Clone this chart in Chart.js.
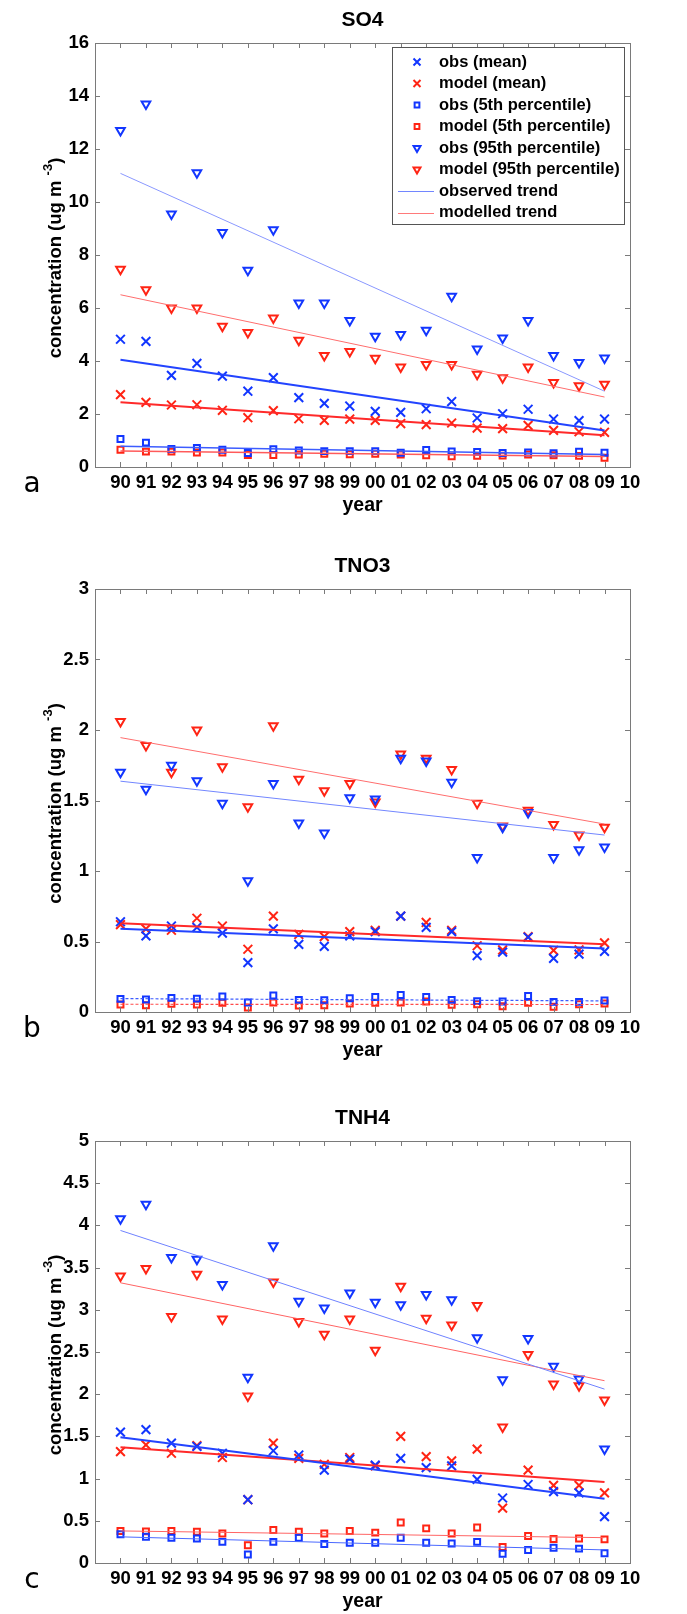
<!DOCTYPE html>
<html>
<head>
<meta charset="utf-8">
<script src="https://cdn.jsdelivr.net/npm/chart.js@4.4.1/dist/chart.umd.min.js"></script>
<style>
  html, body { margin: 0; padding: 0; background: #fff; }
  #wrap { position: relative; width: 687px; height: 1614px; }
  canvas { position: absolute; left: 0; }
</style>
</head>
<body>
<div id="wrap">
  <canvas id="chartA" width="687" height="546" style="top:0px"></canvas>
  <canvas id="chartB" width="687" height="552" style="top:546px"></canvas>
  <canvas id="chartC" width="687" height="516" style="top:1098px"></canvas>
</div>
<script>
// anos das medições
const years = [1990, 1991, 1992, 1993, 1994, 1995, 1996, 1997, 1998, 1999,
               2000, 2001, 2002, 2003, 2004, 2005, 2006, 2007, 2008, 2009];
const xTickYears = [1990, 1991, 1992, 1993, 1994, 1995, 1996, 1997, 1998, 1999, 2000,
                    2001, 2002, 2003, 2004, 2005, 2006, 2007, 2008, 2009, 2010];
const xTickLabels = ['90', '91', '92', '93', '94', '95', '96', '97', '98', '99', '00',
                     '01', '02', '03', '04', '05', '06', '07', '08', '09', '10'];
const trendYears = [1990, 2009];

// SO4
const so4ObsMean = [4.82, 4.74, 3.46, 3.91, 3.43, 2.86, 3.37, 2.62, 2.40, 2.30, 2.10, 2.06, 2.20, 2.47, 1.85, 2.01, 2.18, 1.81, 1.75, 1.81];
const so4ModMean = [2.73, 2.44, 2.34, 2.35, 2.14, 1.86, 2.13, 1.82, 1.76, 1.81, 1.76, 1.64, 1.60, 1.66, 1.47, 1.45, 1.57, 1.38, 1.33, 1.31];
const so4ObsP5 = [1.06, 0.92, 0.68, 0.72, 0.65, 0.53, 0.67, 0.62, 0.60, 0.60, 0.60, 0.54, 0.64, 0.59, 0.57, 0.53, 0.55, 0.52, 0.58, 0.54];
const so4ModP5 = [0.65, 0.58, 0.58, 0.55, 0.55, 0.45, 0.45, 0.47, 0.50, 0.48, 0.50, 0.47, 0.44, 0.40, 0.42, 0.43, 0.47, 0.44, 0.42, 0.35];
const so4ObsP95 = [12.7, 13.7, 9.55, 11.1, 8.85, 7.42, 8.95, 6.19, 6.19, 5.53, 4.93, 5.00, 5.16, 6.44, 4.45, 4.87, 5.53, 4.21, 3.94, 4.11];
const so4ModP95 = [7.46, 6.69, 6.00, 6.00, 5.31, 5.08, 5.62, 4.78, 4.21, 4.36, 4.10, 3.77, 3.87, 3.87, 3.50, 3.37, 3.77, 3.19, 3.07, 3.12];
const so4TrObsMean = [4.05, 1.38];
const so4TrModMean = [2.44, 1.20];
const so4TrObsP5 = [0.78, 0.47];
const so4TrModP5 = [0.60, 0.40];
const so4TrObsP95 = [11.08, 2.86];
const so4TrModP95 = [6.50, 2.64];

// TNO3
const no3ObsMean = [0.64, 0.54, 0.61, 0.60, 0.56, 0.35, 0.59, 0.48, 0.465, 0.54, 0.57, 0.68, 0.60, 0.57, 0.40, 0.425, 0.53, 0.38, 0.41, 0.43];
const no3ModMean = [0.62, 0.59, 0.58, 0.665, 0.61, 0.445, 0.68, 0.55, 0.535, 0.57, 0.58, 0.68, 0.635, 0.58, 0.47, 0.44, 0.535, 0.437, 0.44, 0.49];
const no3ObsP5 = [0.093, 0.088, 0.100, 0.095, 0.110, 0.067, 0.117, 0.086, 0.084, 0.098, 0.107, 0.120, 0.107, 0.086, 0.077, 0.074, 0.114, 0.072, 0.072, 0.081];
const no3ModP5 = [0.053, 0.048, 0.058, 0.053, 0.065, 0.032, 0.067, 0.046, 0.048, 0.060, 0.065, 0.067, 0.074, 0.051, 0.055, 0.041, 0.065, 0.037, 0.055, 0.060];
const no3ObsP95 = [1.70, 1.58, 1.75, 1.64, 1.48, 0.93, 1.62, 1.34, 1.27, 1.52, 1.51, 1.80, 1.78, 1.63, 1.095, 1.31, 1.415, 1.095, 1.15, 1.17];
const no3ModP95 = [2.06, 1.89, 1.70, 2.00, 1.74, 1.455, 2.03, 1.65, 1.57, 1.62, 1.49, 1.83, 1.80, 1.72, 1.48, 1.32, 1.43, 1.33, 1.255, 1.31];
const no3TrObsMean = [0.59, 0.45];
const no3TrModMean = [0.63, 0.48];
const no3TrObsP5 = [0.095, 0.079];
const no3TrModP5 = [0.055, 0.053];
const no3TrObsP95 = [1.637, 1.255];
const no3TrModP95 = [1.946, 1.333];

// TNH4
const nh4ObsMean = [1.55, 1.58, 1.42, 1.38, 1.30, 0.75, 1.33, 1.28, 1.10, 1.23, 1.16, 1.24, 1.13, 1.15, 0.99, 0.77, 0.93, 0.845, 0.83, 0.55];
const nh4ModMean = [1.32, 1.40, 1.30, 1.39, 1.25, 0.75, 1.42, 1.24, 1.17, 1.25, 1.15, 1.50, 1.26, 1.21, 1.35, 0.65, 1.10, 0.92, 0.92, 0.83];
const nh4ObsP5 = [0.34, 0.31, 0.30, 0.29, 0.25, 0.10, 0.25, 0.30, 0.225, 0.24, 0.24, 0.30, 0.24, 0.23, 0.25, 0.11, 0.155, 0.18, 0.17, 0.115];
const nh4ModP5 = [0.38, 0.375, 0.38, 0.37, 0.35, 0.21, 0.39, 0.37, 0.35, 0.38, 0.36, 0.48, 0.41, 0.35, 0.42, 0.19, 0.32, 0.285, 0.29, 0.28];
const nh4ObsP95 = [4.08, 4.25, 3.62, 3.60, 3.30, 2.20, 3.76, 3.10, 3.02, 3.20, 3.09, 3.06, 3.18, 3.12, 2.67, 2.17, 2.66, 2.33, 2.18, 1.35];
const nh4ModP95 = [3.40, 3.49, 2.92, 3.42, 2.89, 1.98, 3.33, 2.86, 2.71, 2.89, 2.52, 3.28, 2.90, 2.82, 3.05, 1.61, 2.47, 2.12, 2.10, 1.93];
const nh4TrObsMean = [1.49, 0.76];
const nh4TrModMean = [1.37, 0.96];
const nh4TrObsP5 = [0.31, 0.155];
const nh4TrModP5 = [0.38, 0.30];
const nh4TrObsP95 = [3.94, 2.06];
const nh4TrModP95 = [3.32, 2.16];

const legendLabels = ['obs (mean)', 'model (mean)', 'obs (5th percentile)', 'model (5th percentile)',
                      'obs (95th percentile)', 'model (95th percentile)', 'observed trend', 'modelled trend'];

const BLUE = '#1236ff';
const RED = '#ff2414';
const FONT = '"Liberation Sans", Arial, sans-serif';

const markX = { pointStyle: 'crossRot', pointRadius: 6.2, pointRotation: 0 };
const markSq = { pointStyle: 'rect', pointRadius: 4.2, pointRotation: 0 };
const markTri = { pointStyle: 'triangle', pointRadius: 5, pointRotation: 180 };

function pts(vals, xs) {
    return vals.map((v, i) => ({ x: xs[i], y: v }));
}

function marks(vals, color, mk) {
    return Object.assign({
        data: pts(vals, years),
        showLine: false,
        borderColor: color,
        backgroundColor: 'rgba(0,0,0,0)',
        pointBorderWidth: 2,
        pointHoverRadius: 0
    }, mk);
}

function trend(vals, color, width, dash) {
    return {
        data: pts(vals, trendYears),
        showLine: true,
        pointRadius: 0,
        borderColor: color,
        borderWidth: width,
        borderDash: dash || [],
        fill: false
    };
}

// desenha o quadro, os ticks para dentro, os textos e a legenda
const framePlugin = {
    id: 'frame',
    afterDatasetsDraw(chart, args, opts) {
        const ctx = chart.ctx;
        const a = chart.chartArea;
        const x = chart.scales.x;
        const y = chart.scales.y;
        ctx.save();
        ctx.strokeStyle = '#7a7a7a';
        ctx.lineWidth = 1;
        ctx.strokeRect(Math.round(a.left) + 0.5, Math.round(a.top) + 0.5,
                       Math.round(a.right - a.left), Math.round(a.bottom - a.top));
        ctx.beginPath();
        xTickYears.forEach(v => {
            const px = Math.round(x.getPixelForValue(v)) + 0.5;
            ctx.moveTo(px, a.bottom); ctx.lineTo(px, a.bottom - 5);
            ctx.moveTo(px, a.top); ctx.lineTo(px, a.top + 5);
        });
        y.ticks.forEach(t => {
            const py = Math.round(y.getPixelForValue(t.value)) + 0.5;
            ctx.moveTo(a.left, py); ctx.lineTo(a.left + 5, py);
            ctx.moveTo(a.right, py); ctx.lineTo(a.right - 5, py);
        });
        ctx.stroke();

        ctx.fillStyle = '#000';
        ctx.textAlign = 'center';
        ctx.textBaseline = 'middle';
        const cx = (a.left + a.right) / 2;
        ctx.font = 'bold 21px ' + FONT;
        ctx.fillText(opts.title, cx, a.top - 23);
        ctx.font = 'bold 19.5px ' + FONT;
        ctx.fillText('year', cx, a.bottom + 39);
        ctx.font = '28px "DejaVu Sans", sans-serif';
        ctx.fillText(opts.letter, 32, a.bottom + 18);

        // rótulo do eixo y com expoente
        ctx.save();
        ctx.translate(53, (a.top + a.bottom) / 2 + 3);
        ctx.rotate(-Math.PI / 2);
        ctx.textAlign = 'left';
        ctx.textBaseline = 'alphabetic';
        const mainTxt = 'concentration (ug m ';
        const supTxt = '-3';
        const endTxt = ')';
        ctx.font = 'bold 18.5px ' + FONT;
        const w1 = ctx.measureText(mainTxt).width;
        const w3 = ctx.measureText(endTxt).width;
        ctx.font = 'bold 13px ' + FONT;
        const w2 = ctx.measureText(supTxt).width;
        let sx = -(w1 + w2 + w3) / 2;
        const base = 8;
        ctx.font = 'bold 18.5px ' + FONT;
        ctx.fillText(mainTxt, sx, base);
        sx += w1;
        ctx.font = 'bold 13px ' + FONT;
        ctx.fillText(supTxt, sx, base - 9);
        sx += w2;
        ctx.font = 'bold 18.5px ' + FONT;
        ctx.fillText(endTxt, sx, base);
        ctx.restore();

        if (opts.legend) {
            const bx = 392, by = 47, bw = 232, bh = 177;
            ctx.fillStyle = '#fff';
            ctx.fillRect(bx, by, bw, bh);
            ctx.strokeStyle = '#555';
            ctx.strokeRect(bx + 0.5, by + 0.5, bw, bh);
            const styles = [
                [BLUE, markX], [RED, markX], [BLUE, markSq], [RED, markSq],
                [BLUE, markTri], [RED, markTri], ['#7286ff', null], ['#ff7a7a', null]
            ];
            ctx.font = 'bold 16.5px ' + FONT;
            ctx.textAlign = 'left';
            ctx.textBaseline = 'middle';
            legendLabels.forEach((lab, i) => {
                const ry = 62 + i * 21.5;
                const st = styles[i];
                ctx.strokeStyle = st[0];
                if (st[1]) {
                    ctx.lineWidth = 2;
                    ctx.fillStyle = 'rgba(0,0,0,0)';
                    Chart.helpers.drawPoint(ctx, {
                        pointStyle: st[1].pointStyle,
                        radius: st[1].pointRadius * 0.8,
                        rotation: st[1].pointRotation,
                        borderWidth: 2
                    }, 417, ry);
                } else {
                    ctx.lineWidth = 1;
                    ctx.beginPath();
                    ctx.moveTo(398, Math.round(ry) + 0.5);
                    ctx.lineTo(434, Math.round(ry) + 0.5);
                    ctx.stroke();
                }
                ctx.fillStyle = '#000';
                ctx.fillText(lab, 439, ry);
            });
        }
        ctx.restore();
    }
};

function makeChart(id, cfg) {
    const canvas = document.getElementById(id);
    const bottom = cfg.bottom;
    return new Chart(canvas, {
        type: 'scatter',
        data: { datasets: cfg.datasets },
        options: {
            responsive: false,
            animation: false,
            devicePixelRatio: 1,
            layout: { padding: { top: 43, right: 57, left: 0, bottom: 0 } },
            plugins: {
                legend: { display: false },
                tooltip: { enabled: false },
                frame: { title: cfg.title, letter: cfg.letter, legend: cfg.legend }
            },
            scales: {
                x: {
                    type: 'linear', min: 1989, max: 2010,
                    grid: { display: false, drawTicks: false }, border: { display: false },
                    afterBuildTicks: s => { s.ticks = xTickYears.map(v => ({ value: v })); },
                    afterFit: s => { s.height = canvas.height - bottom; },
                    ticks: {
                        autoSkip: false, maxRotation: 0, padding: 5, color: '#000',
                        font: { family: FONT, size: 18.5, weight: 'bold' },
                        callback: v => xTickLabels[xTickYears.indexOf(v)] || ''
                    }
                },
                y: {
                    min: 0, max: cfg.ymax,
                    grid: { display: false, drawTicks: false }, border: { display: false },
                    afterFit: s => { s.width = 95; },
                    ticks: {
                        stepSize: cfg.step, padding: 6, color: '#000',
                        font: { family: FONT, size: 18.5, weight: 'bold' },
                        callback: v => String(Number(v.toFixed(2)))
                    }
                }
            }
        },
        plugins: [framePlugin]
    });
}

makeChart('chartA', {
    title: 'SO4', letter: 'a', legend: true, ymax: 16, step: 2, bottom: 467,
    datasets: [
        trend(so4TrObsMean, '#2344ff', 2),
        trend(so4TrModMean, '#ff2a2a', 2),
        trend(so4TrObsP5, '#3c5cff', 1.5),
        trend(so4TrModP5, '#ff5a5a', 1.5),
        trend(so4TrObsP95, '#8a98ff', 1),
        trend(so4TrModP95, '#ff6e6e', 1),
        marks(so4ObsMean, BLUE, markX),
        marks(so4ModMean, RED, markX),
        marks(so4ObsP5, BLUE, markSq),
        marks(so4ModP5, RED, markSq),
        marks(so4ObsP95, BLUE, markTri),
        marks(so4ModP95, RED, markTri)
    ]
});

makeChart('chartB', {
    title: 'TNO3', letter: 'b', legend: false, ymax: 3, step: 0.5, bottom: 466,
    datasets: [
        trend(no3TrObsMean, '#2344ff', 2),
        trend(no3TrModMean, '#ff2a2a', 2),
        trend(no3TrObsP5, '#3c5cff', 1.2, [3, 2]),
        trend(no3TrModP5, '#ff4a4a', 1.2, [3, 2]),
        trend(no3TrObsP95, '#7286ff', 1),
        trend(no3TrModP95, '#ff6e6e', 1),
        marks(no3ObsMean, BLUE, markX),
        marks(no3ModMean, RED, markX),
        marks(no3ObsP5, BLUE, markSq),
        marks(no3ModP5, RED, markSq),
        marks(no3ObsP95, BLUE, markTri),
        marks(no3ModP95, RED, markTri)
    ]
});

makeChart('chartC', {
    title: 'TNH4', letter: 'c', legend: false, ymax: 5, step: 0.5, bottom: 465,
    datasets: [
        trend(nh4TrObsMean, '#2344ff', 2),
        trend(nh4TrModMean, '#ff2a2a', 2),
        trend(nh4TrObsP5, '#4a68ff', 1),
        trend(nh4TrModP5, '#ff6464', 1),
        trend(nh4TrObsP95, '#6f82ff', 1),
        trend(nh4TrModP95, '#ff6464', 1),
        marks(nh4ObsMean, BLUE, markX),
        marks(nh4ModMean, RED, markX),
        marks(nh4ObsP5, BLUE, markSq),
        marks(nh4ModP5, RED, markSq),
        marks(nh4ObsP95, BLUE, markTri),
        marks(nh4ModP95, RED, markTri)
    ]
});
</script>
</body>
</html>
